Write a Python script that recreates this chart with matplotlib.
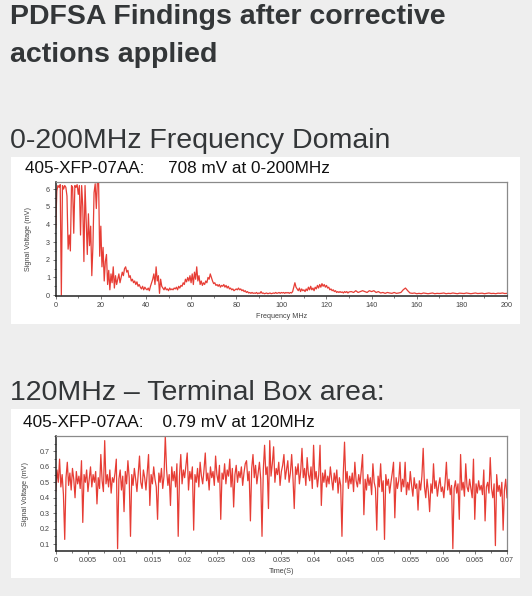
import numpy as np
import matplotlib
matplotlib.use("Agg")
import matplotlib.pyplot as plt
from matplotlib.patches import Rectangle
from matplotlib.ticker import MultipleLocator

# ============================================
# Data
# ============================================

# 0-130 MHz sampled every 0.5 MHz, signal voltage in mV
FREQ_FINE_MV = [
    3.8, 5.9, 6.2, 6.1, 6.25, 0.0, 6.2, 6.0, 6.2, 6.1,
    5.6, 2.6, 3.4, 2.5, 6.2, 6.1, 3.5, 6.2, 6.1, 6.25,
    5.7, 6.2, 3.4, 6.2, 5.0, 1.9, 6.2, 4.2, 2.3, 4.6,
    2.8, 3.9, 1.1, 2.8, 5.8, 6.3, 4.9, 6.5, 6.5, 2.2,
    3.9, 1.6, 2.7, 0.8, 1.9, 2.3, 0.6, 1.4, 0.3, 1.2,
    0.7, 1.6, 0.4, 1.1, 0.6, 0.9, 1.2, 0.7, 1.0, 1.3,
    1.1, 1.5, 1.6, 1.3, 1.4, 1.0, 1.1, 0.8, 0.9, 0.7,
    0.8, 0.6, 0.75, 0.5, 0.6, 0.45, 0.35, 0.5, 0.3, 0.45,
    0.35, 0.3, 0.4, 0.25, 0.5, 0.7, 0.9, 1.2, 0.6, 1.6,
    0.8, 1.1, 0.1, 0.9, 0.5, 0.4, 0.3, 0.45, 0.3, 0.35,
    0.25, 0.4, 0.3, 0.35, 0.3, 0.4, 0.35, 0.45, 0.3, 0.5,
    0.4, 0.55, 0.5, 0.7, 0.6, 0.9, 0.75, 1.0, 0.8, 1.1,
    0.7, 1.2, 0.6, 1.3, 0.9, 1.6, 0.8, 1.1, 0.6, 0.8,
    0.55, 0.7, 0.6, 0.8, 0.7, 1.0, 0.9, 1.2, 1.0, 0.8,
    0.65, 0.7, 0.55, 0.6, 0.5, 0.6, 0.45, 0.55, 0.5, 0.6,
    0.45, 0.55, 0.4, 0.5, 0.35, 0.4, 0.3, 0.35, 0.25, 0.3,
    0.35, 0.3, 0.4, 0.3, 0.35, 0.25, 0.3, 0.2, 0.25, 0.15,
    0.2, 0.12, 0.15, 0.1, 0.15, 0.1, 0.12, 0.1, 0.15, 0.08,
    0.12, 0.1, 0.2, 0.1, 0.12, 0.08, 0.1, 0.12, 0.08, 0.1,
    0.12, 0.08, 0.1, 0.12, 0.1, 0.15, 0.1, 0.12, 0.15, 0.1,
    0.15, 0.12, 0.15, 0.1, 0.15, 0.12, 0.15, 0.1, 0.15, 0.12,
    0.2, 0.45, 0.7, 0.45, 0.35, 0.25, 0.4, 0.2, 0.35, 0.25,
    0.3, 0.2, 0.35, 0.25, 0.45, 0.3, 0.5, 0.3, 0.4, 0.25,
    0.45, 0.35, 0.55, 0.4, 0.6, 0.45, 0.65, 0.5, 0.6, 0.45,
    0.55, 0.4, 0.45, 0.3, 0.35, 0.25, 0.3, 0.2, 0.25, 0.15,
    0.2, 0.15, 0.2, 0.15, 0.18, 0.12, 0.2, 0.15, 0.2, 0.12,
    0.18,
]
# 131-200 MHz sampled every 1 MHz
FREQ_COARSE_MV = [
    0.2, 0.15, 0.25, 0.15, 0.2, 0.25, 0.2, 0.15, 0.25, 0.2,
    0.25, 0.15, 0.2, 0.12, 0.15, 0.1, 0.15, 0.12, 0.1, 0.15,
    0.1, 0.12, 0.15, 0.3, 0.4, 0.25, 0.12, 0.1, 0.12, 0.08,
    0.1, 0.08, 0.12, 0.1, 0.08, 0.1, 0.12, 0.08, 0.1, 0.09,
    0.1, 0.12, 0.08, 0.1, 0.09, 0.12, 0.1, 0.08, 0.11, 0.1,
    0.09, 0.12, 0.1, 0.08, 0.1, 0.12, 0.09, 0.1, 0.11, 0.08,
    0.1, 0.12, 0.09, 0.1, 0.08, 0.11, 0.1, 0.12, 0.09, 0.1,
]

# time trace at 120 MHz, 0-0.07 s every 0.2 ms, mV
TIME_MV = [
    0.44, 0.58, 0.50, 0.65, 0.47, 0.55, 0.42, 0.13, 0.53, 0.63,
    0.48, 0.56, 0.45, 0.59, 0.52, 0.40, 0.57, 0.49, 0.54, 0.46,
    0.64, 0.24, 0.55, 0.50, 0.58, 0.44, 0.52, 0.60, 0.47, 0.55,
    0.50, 0.57, 0.36, 0.53, 0.46, 0.68, 0.51, 0.44, 0.77, 0.49,
    0.55, 0.47, 0.58, 0.43, 0.53, 0.50, 0.56, 0.65, 0.07, 0.52,
    0.58, 0.45, 0.54, 0.31, 0.57, 0.49, 0.64, 0.53, 0.15, 0.55,
    0.48, 0.59, 0.52, 0.44, 0.56, 0.67, 0.50, 0.46, 0.58, 0.53,
    0.45, 0.57, 0.68, 0.35, 0.55, 0.49, 0.60, 0.52, 0.47, 0.26,
    0.56, 0.50, 0.59, 0.46, 0.54, 0.80, 0.58, 0.48, 0.55, 0.35,
    0.60, 0.51, 0.57, 0.47, 0.62, 0.15, 0.54, 0.68, 0.49, 0.58,
    0.53, 0.61, 0.69, 0.45, 0.57, 0.52, 0.60, 0.19, 0.55, 0.50,
    0.59, 0.47, 0.63, 0.54, 0.49, 0.58, 0.69, 0.51, 0.56, 0.45,
    0.60, 0.53, 0.57, 0.48, 0.67, 0.55, 0.50, 0.61, 0.26, 0.56,
    0.52, 0.62, 0.49, 0.58, 0.54, 0.65, 0.47, 0.59, 0.34, 0.55,
    0.61, 0.50, 0.57, 0.53, 0.60, 0.48, 0.56, 0.62, 0.64, 0.51,
    0.57, 0.25, 0.59, 0.68, 0.53, 0.61, 0.49, 0.56, 0.63, 0.52,
    0.15, 0.58, 0.74, 0.55, 0.60, 0.33, 0.77, 0.54, 0.62, 0.73,
    0.50, 0.59, 0.55, 0.63, 0.48, 0.57, 0.61, 0.68, 0.52, 0.58,
    0.64, 0.50, 0.56, 0.68, 0.53, 0.33, 0.60, 0.55, 0.62, 0.49,
    0.57, 0.72, 0.53, 0.59, 0.48, 0.66, 0.55, 0.51, 0.60, 0.46,
    0.74, 0.52, 0.57, 0.47, 0.55, 0.74, 0.35, 0.56, 0.50, 0.58,
    0.47, 0.54, 0.49, 0.60, 0.52, 0.45, 0.56, 0.50, 0.58, 0.43,
    0.53, 0.48, 0.15, 0.55, 0.76, 0.50, 0.57, 0.46, 0.54, 0.49,
    0.56, 0.44, 0.63, 0.51, 0.47, 0.55, 0.49, 0.58, 0.68, 0.29,
    0.52, 0.45, 0.55, 0.48, 0.53, 0.42, 0.62, 0.50, 0.46, 0.19,
    0.54, 0.47, 0.62, 0.44, 0.51, 0.13, 0.55, 0.48, 0.52, 0.43,
    0.50, 0.56, 0.63, 0.27, 0.53, 0.46, 0.51, 0.63, 0.44, 0.52,
    0.47, 0.63, 0.42, 0.50, 0.45, 0.57, 0.48, 0.41, 0.53, 0.46,
    0.49, 0.32, 0.51, 0.45, 0.54, 0.72, 0.47, 0.40, 0.52, 0.44,
    0.31, 0.49, 0.43, 0.62, 0.46, 0.51, 0.41, 0.48, 0.53, 0.44,
    0.47, 0.40, 0.50, 0.63, 0.45, 0.52, 0.42, 0.48, 0.07, 0.46,
    0.51, 0.43, 0.49, 0.26, 0.68, 0.45, 0.50, 0.41, 0.62, 0.47,
    0.44, 0.52, 0.46, 0.40, 0.65, 0.26, 0.49, 0.43, 0.51, 0.45,
    0.48, 0.42, 0.58, 0.25, 0.47, 0.50, 0.43, 0.66, 0.46, 0.40,
    0.49, 0.09, 0.55, 0.44, 0.48, 0.41, 0.50, 0.19, 0.45, 0.52,
    0.40,
]

FREQ_TICKS = [0, 20, 40, 60, 80, 100, 120, 140, 160, 180, 200]
FREQ_YTICKS = [0, 1, 2, 3, 4, 5, 6]
TIME_TICKS = [0, 0.005, 0.01, 0.015, 0.02, 0.025, 0.03, 0.035,
              0.04, 0.045, 0.05, 0.055, 0.06, 0.065, 0.07]
TIME_YTICKS = [0.1, 0.2, 0.3, 0.4, 0.5, 0.6, 0.7]

freq = np.concatenate([np.arange(len(FREQ_FINE_MV)) * 0.5,
                       131 + np.arange(len(FREQ_COARSE_MV))])
freq_mv = np.array(FREQ_FINE_MV + FREQ_COARSE_MV)
time_s = np.arange(len(TIME_MV)) * 0.0002
time_mv = np.array(TIME_MV)

# ============================================
# Figure
# ============================================

W, H = 532, 596
BG = "#eeeeee"
TXT = "#333638"
RED = "#e4281f"
TICK_FS = 5.2

plt.rcParams["font.family"] = ["Liberation Sans", "DejaVu Sans"]

fig = plt.figure(figsize=(W / 100, H / 100), dpi=100)
fig.patch.set_facecolor(BG)


def fx(px):
    return px / W


def fy(py):
    return 1 - py / H


def panel(top, bottom):
    fig.add_artist(Rectangle((fx(11), fy(bottom)), fx(520 - 11), (bottom - top) / H,
                             transform=fig.transFigure, facecolor="white",
                             edgecolor="none", zorder=0))


def style_axes(ax):
    for side in ("left", "bottom"):
        ax.spines[side].set_color("#222222")
        ax.spines[side].set_linewidth(1.1)
    for side in ("top", "right"):
        ax.spines[side].set_color("#8a8a8a")
        ax.spines[side].set_linewidth(0.9)
    ax.tick_params(labelsize=TICK_FS, colors="#444444", length=2, width=0.5, pad=2)
    ax.tick_params(which="minor", length=1.5, width=0.5, colors="#444444")


# headings
fig.text(fx(10), fy(24), "PDFSA Findings after corrective", fontsize=20.5,
         fontweight="bold", color=TXT, va="baseline", ha="left")
fig.text(fx(10), fy(62), "actions applied", fontsize=20.5,
         fontweight="bold", color=TXT, va="baseline", ha="left")
fig.text(fx(10), fy(148), "0-200MHz Frequency Domain", fontsize=20.5,
         color=TXT, va="baseline", ha="left")
fig.text(fx(10), fy(400), "120MHz \u2013 Terminal Box area:", fontsize=20.5,
         color=TXT, va="baseline", ha="left")

panel(157, 324)
panel(409, 578)

fig.text(fx(25), fy(173), "405-XFP-07AA:     708 mV at 0-200MHz", fontsize=12.3,
         color="#111111", va="baseline", ha="left")
fig.text(fx(23), fy(427), "405-XFP-07AA:    0.79 mV at 120MHz", fontsize=12.4,
         color="#111111", va="baseline", ha="left")

# ---- frequency domain ----
ax1 = fig.add_axes([fx(55.7), fy(296), fx(507 - 55.7), (296 - 182) / H])
ax1.plot(freq, freq_mv, color=RED, lw=0.9, alpha=0.9)
ax1.set_xlim(0, 200)
ax1.set_ylim(-0.05, 6.4)
ax1.set_xticks(FREQ_TICKS)
ax1.set_yticks(FREQ_YTICKS)
ax1.xaxis.set_minor_locator(MultipleLocator(10))
ax1.yaxis.set_minor_locator(MultipleLocator(0.5))
ax1.set_xlabel("Frequency MHz", fontsize=TICK_FS, color="#444444", labelpad=3)
ax1.set_ylabel("Signal Voltage (mV)", fontsize=TICK_FS, color="#444444", labelpad=10)
style_axes(ax1)

# ---- time domain ----
ax2 = fig.add_axes([fx(55.7), fy(551), fx(507 - 55.7), (551 - 436) / H])
ax2.plot(time_s, time_mv, color=RED, lw=0.9, alpha=0.9)
ax2.set_xlim(0, 0.07)
ax2.set_ylim(0.055, 0.8)
ax2.set_xticks(TIME_TICKS)
ax2.set_xticklabels([f"{t:g}" for t in TIME_TICKS])
ax2.set_yticks(TIME_YTICKS)
ax2.xaxis.set_minor_locator(MultipleLocator(0.0025))
ax2.yaxis.set_minor_locator(MultipleLocator(0.05))
ax2.set_xlabel("Time(S)", fontsize=TICK_FS, color="#444444", labelpad=3)
ax2.set_ylabel("Signal Voltage (mV)", fontsize=TICK_FS, color="#444444", labelpad=8)
style_axes(ax2)

fig.savefig("out.png", dpi=100, facecolor=BG)
